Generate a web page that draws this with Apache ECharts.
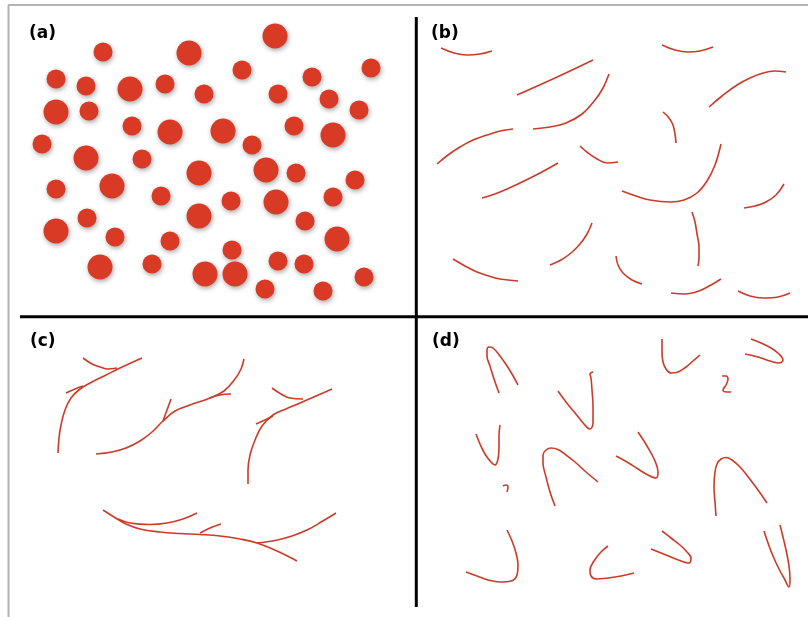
<!DOCTYPE html>
<html><head><meta charset="utf-8">
<script src="https://cdn.jsdelivr.net/npm/echarts@6/dist/echarts.min.js"></script>
<style>html,body{margin:0;padding:0;background:#fff}#c{width:808px;height:617px}</style>
</head><body><div id="c"></div>
<script>
// Panel labels
const panelLabels = ['(a)', '(b)', '(c)', '(d)'];
const labelPos = [[29, 33.5], [431, 33.5], [30, 341.5], [432, 341.5]];

// Panel (a): circles [x, y, diameter]
const circlesA = [
  [275,36,25],[103,52,19],[189,53,25],[371,68,19],[242,70,19],[56,79,19],[86,86,19],
  [130,89,25],[165,84,19],[204,94,19],[312,77,19],[278,94,19],[329,99,19],[359,110,19],
  [56,112,25],[89,111,19],[132,126,19],[170,132,25],[223,131,25],[294,126,19],[333,135,25],
  [42,144,19],[252,145,19],[86,158,25],[142,159,19],[199,173,25],[266,170,25],[296,173,19],
  [355,180,19],[56,189,19],[112,186,25],[161,196,19],[231,201,19],[276,202,25],[333,197,19],
  [87,218,19],[199,216,25],[305,221,19],[56,231,25],[115,237,19],[170,241,19],[337,239,25],
  [232,250,19],[100,267,25],[152,264,19],[205,274,25],[235,274,25],[278,261,19],[304,264,19],
  [364,277,19],[265,289,19],[323,291,19]
];

// Panel (b): separate curved strokes
const curvesB = [
  [[441,48],[454,53],[467,55],[480,54],[492,51]],
  [[517,95],[555,78],[593,60]],
  [[533,129],[550,127],[566,123],[582,114],[595,100],[603,88],[609,74]],
  [[437,164],[448,155],[460,147],[473,140],[487,135],[500,131],[513,129]],
  [[482,198],[500,192],[520,183],[540,173],[558,163]],
  [[580,146],[588,153],[597,159],[607,163],[618,162]],
  [[663,112],[669,118],[673,125],[675,134],[676,143]],
  [[622,191],[636,196],[650,200],[670,202],[684,200],[697,193],[707,181],[715,165],[721,144]],
  [[709,107],[722,96],[737,85],[750,78],[763,73],[775,71],[786,72]],
  [[662,45],[675,50],[688,52],[700,51],[713,47]],
  [[744,208],[755,206],[766,202],[776,195],[784,184]],
  [[453,259],[465,266],[477,272],[489,276],[500,279],[518,281]],
  [[550,265],[561,260],[571,253],[580,244],[587,234],[592,223]],
  [[692,212],[695,222],[697,234],[699,247],[699,258],[698,266]],
  [[616,256],[618,265],[623,273],[632,280],[642,284]],
  [[671,293],[685,294],[699,291],[711,285],[721,279]],
  [[738,291],[750,296],[763,298],[778,297],[790,293]]
];

// Panel (c): branching strokes
const curvesC = [
  [[58,453],[59,438],[61,425],[65,410],[71,398],[80,389],[92,382],[106,375],[120,368],[142,358]],
  [[83,358],[92,364],[100,367],[108,369],[117,368]],
  [[66,393],[75,389],[83,386]],
  [[96,454],[112,452],[126,448],[140,441],[152,432],[163,421],[175,411],[190,405],[210,398],[224,391],[235,379],[241,369],[244,359]],
  [[171,399],[167,410],[163,421]],
  [[231,394],[220,395],[210,398]],
  [[248,484],[248,470],[250,455],[255,440],[262,426],[273,415],[286,409],[300,403],[316,396],[332,389]],
  [[272,388],[281,394],[290,398],[303,399]],
  [[256,424],[265,420],[273,416]],
  [[103,510],[114,517],[126,524],[140,529],[160,532],[180,533.5],[200,534.5],[220,536],[240,539],[257,543],[277,551],[297,561]],
  [[118,519],[130,523],[150,524.5],[167,523],[183,519],[197,513]],
  [[200,533],[210,528],[221,524]],
  [[257,543],[275,540.5],[292,536],[308,529.5],[322,521.5],[336,513]]
];

// Panel (d): hooks and V shapes
const curvesD = [
  [[499,393],[494,379],[490,366],[487,356],[487,350],[489,347],[493,348],[500,356],[509,369],[518,385]],
  [[558,391],[566,402],[575,413],[584,424],[590,429],[593,423],[593,406],[592,390],[591,378],[590,374],[593,372]],
  [[662,339],[662,352],[663,362],[666,369],[671,373],[678,372],[686,367],[693,361],[700,355]],
  [[751,339],[761,343],[771,348],[779,354],[783,360],[779,363],[770,361],[758,357],[745,354]],
  [[722,376],[726,376],[728,379],[726,385],[723,390],[727,392],[731,392]],
  [[476,434],[480,444],[485,454],[491,462],[495,465],[498,459],[499,447],[499,436],[500,425]],
  [[503,486],[506,485],[508,487],[507,492]],
  [[555,506],[550,492],[546,477],[543,463],[543,455],[546,450],[551,448],[558,449.5],[566,455],[575,462],[586,472],[598,482]],
  [[616,456],[627,462],[638,469],[648,475],[656,478],[658,472],[655,461],[647,446],[638,432]],
  [[716,516],[715,502],[714,487],[715,472],[717,464],[721,459],[726,457.5],[732,460],[740,467],[749,478],[758,490],[767,503]],
  [[466,572],[477,576],[488,580],[500,582],[511,581],[517,575],[518,565],[516,553],[512,541],[507,530]],
  [[608,546],[601,552],[594,561],[590,570],[591,576],[597,579],[608,578],[621,576],[634,573]],
  [[662,531],[671,538],[680,545],[687,552],[691,558],[689,563],[681,561],[666,555],[651,549]],
  [[764,531],[768,543],[773,556],[779,569],[785,580],[789,587],[790,580],[789,566],[786,550],[783,537],[780,525]]
];

const RED = '#cc3b28';
const series = [];
series.push({
  type: 'scatter',
  data: circlesA.map(c => [c[0], c[1], c[2]]),
  symbolSize: v => v[2],
  itemStyle: { color: '#d93a26', opacity: 1, shadowBlur: 5, shadowColor: 'rgba(0,0,0,0.35)', shadowOffsetY: 2, shadowOffsetX: 1 },
  silent: true, z: 3
});
[curvesB, curvesC, curvesD].forEach(group => {
  group.forEach(pts => {
    series.push({
      type: 'line', data: pts, smooth: 0.4, showSymbol: false, symbol: 'none',
      lineStyle: { color: RED, width: 1.6 }, silent: true, z: 3
    });
  });
});
// frame lines (gray border and black dividers)
const frame = [
  { pts: [[8, 5], [808, 5]], color: '#b3b3b3', w: 2 },
  { pts: [[8.5, 5], [8.5, 617]], color: '#b3b3b3', w: 2 },
  { pts: [[20, 316.8], [808, 316.8]], color: '#000', w: 3 },
  { pts: [[416.3, 17], [416.3, 607]], color: '#000', w: 3 }
];
frame.forEach(f => series.push({
  type: 'line', data: f.pts, showSymbol: false, symbol: 'none',
  lineStyle: { color: f.color, width: f.w }, silent: true, z: 2
}));

const chart = echarts.init(document.getElementById('c'), null, { renderer: 'canvas' });
chart.setOption({
  animation: false,
  backgroundColor: '#fff',
  grid: { left: 0, right: 0, top: 0, bottom: 0 },
  xAxis: { type: 'value', min: 0, max: 808, show: false },
  yAxis: { type: 'value', min: 0, max: 617, inverse: true, show: false },
  graphic: panelLabels.map((t, i) => ({
    type: 'text', x: labelPos[i][0], y: labelPos[i][1],
    style: { text: t, font: 'bold 17px "DejaVu Sans", sans-serif', fill: '#000', verticalAlign: 'middle', align: 'left' }
  })),
  series: series
});
</script></body></html>
